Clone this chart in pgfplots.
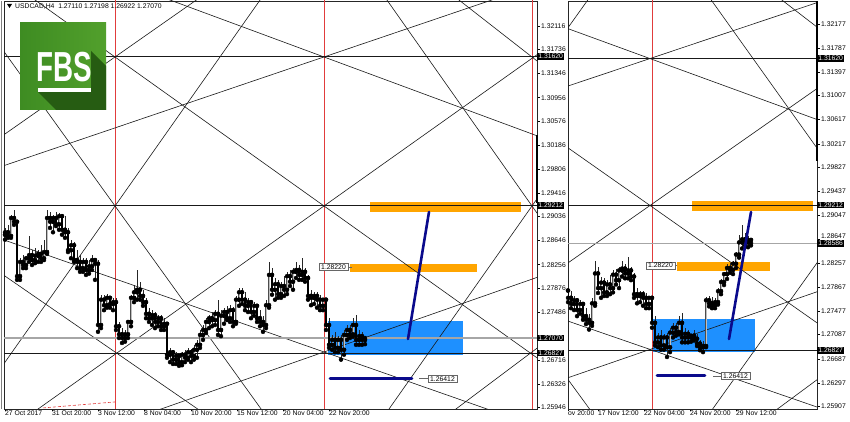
\documentclass[border=0pt]{standalone}
\usepackage{pgfplots}
\pgfplotsset{compat=1.18}
\usepackage{pgfplotstable}
\usepackage{fontspec}
\setmainfont{Liberation Sans}

\definecolor{zoneorange}{RGB}{255,165,0}
\definecolor{zoneblue}{RGB}{30,144,255}
\definecolor{arrownavy}{RGB}{10,10,140}
\definecolor{sepred}{RGB}{225,60,60}
\definecolor{fbsgreen}{RGB}{82,160,44}
\definecolor{fbsgreenL}{RGB}{62,140,34}
\definecolor{fbsdark}{RGB}{38,92,18}

% USDCAD H4 candles: x = bar position (left-panel pixel scale), open high low close
\pgfplotstableread{
x o h l c
5 1.2874 1.2885 1.2866 1.2878
8 1.2878 1.2890 1.2869 1.2872
11 1.2872 1.2906 1.2869 1.2901
14 1.2901 1.2914 1.2890 1.2895
17 1.2895 1.2898 1.2801 1.2807
20 1.2807 1.2836 1.2801 1.2830
23 1.2830 1.2841 1.2820 1.2825
26 1.2825 1.2840 1.2820 1.2836
29 1.2836 1.2872 1.2830 1.2841
32 1.2841 1.2849 1.2825 1.2833
35 1.2833 1.2853 1.2828 1.2840
38 1.2840 1.2849 1.2830 1.2843
41 1.2843 1.2857 1.2830 1.2836
44 1.2836 1.2866 1.2833 1.2846
47 1.2846 1.2914 1.2843 1.2901
50 1.2901 1.2911 1.2885 1.2895
53 1.2895 1.2906 1.2878 1.2901
56 1.2901 1.2911 1.2888 1.2891
59 1.2891 1.2909 1.2882 1.2904
62 1.2904 1.2908 1.2874 1.2882
65 1.2882 1.2904 1.2869 1.2878
68 1.2878 1.2885 1.2846 1.2849
71 1.2849 1.2866 1.2836 1.2857
74 1.2857 1.2862 1.2830 1.2833
77 1.2833 1.2849 1.2820 1.2830
80 1.2830 1.2841 1.2814 1.2820
83 1.2820 1.2836 1.2814 1.2830
86 1.2830 1.2836 1.2809 1.2817
89 1.2817 1.2833 1.2811 1.2823
92 1.2823 1.2841 1.2817 1.2833
95 1.2833 1.2836 1.2801 1.2827
98 1.2827 1.2833 1.2717 1.2728
101 1.2728 1.2777 1.2723 1.2769
104 1.2769 1.2777 1.2752 1.2760
107 1.2760 1.2778 1.2756 1.2772
110 1.2772 1.2775 1.2756 1.2762
113 1.2762 1.2772 1.2752 1.2765
116 1.2765 1.2772 1.2720 1.2726
119 1.2726 1.2733 1.2707 1.2713
122 1.2713 1.2723 1.2699 1.2707
125 1.2707 1.2720 1.2701 1.2713
128 1.2713 1.2736 1.2707 1.2733
131 1.2733 1.2777 1.2726 1.2772
134 1.2772 1.2793 1.2765 1.2781
137 1.2781 1.2817 1.2769 1.2785
140 1.2785 1.2798 1.2769 1.2775
143 1.2775 1.2785 1.2759 1.2765
146 1.2765 1.2772 1.2739 1.2746
149 1.2746 1.2756 1.2733 1.2739
152 1.2739 1.2752 1.2728 1.2744
155 1.2744 1.2749 1.2723 1.2733
158 1.2733 1.2744 1.2726 1.2739
161 1.2739 1.2744 1.2720 1.2726
164 1.2726 1.2739 1.2720 1.2730
167 1.2730 1.2733 1.2675 1.2680
170 1.2680 1.2691 1.2668 1.2684
173 1.2684 1.2688 1.2665 1.2672
176 1.2672 1.2684 1.2665 1.2678
179 1.2678 1.2683 1.2662 1.2668
182 1.2668 1.2684 1.2663 1.2680
185 1.2680 1.2688 1.2668 1.2675
188 1.2675 1.2691 1.2672 1.2684
191 1.2684 1.2689 1.2668 1.2678
194 1.2678 1.2696 1.2672 1.2688
197 1.2688 1.2704 1.2675 1.2696
200 1.2696 1.2720 1.2691 1.2712
203 1.2712 1.2728 1.2704 1.2720
206 1.2720 1.2739 1.2715 1.2733
209 1.2733 1.2744 1.2723 1.2739
212 1.2739 1.2749 1.2726 1.2736
215 1.2736 1.2752 1.2728 1.2746
218 1.2746 1.2769 1.2712 1.2720
221 1.2720 1.2752 1.2710 1.2743
224 1.2743 1.2756 1.2730 1.2749
227 1.2749 1.2759 1.2736 1.2739
230 1.2739 1.2760 1.2733 1.2752
233 1.2752 1.2757 1.2726 1.2733
236 1.2733 1.2775 1.2730 1.2769
239 1.2769 1.2788 1.2759 1.2781
242 1.2781 1.2788 1.2762 1.2769
245 1.2769 1.2781 1.2752 1.2759
248 1.2759 1.2772 1.2749 1.2765
251 1.2765 1.2769 1.2739 1.2749
254 1.2749 1.2765 1.2743 1.2759
257 1.2759 1.2762 1.2733 1.2739
260 1.2739 1.2752 1.2726 1.2733
263 1.2733 1.2743 1.2717 1.2728
266 1.2728 1.2769 1.2723 1.2760
269 1.2760 1.2830 1.2756 1.2809
272 1.2809 1.2820 1.2777 1.2785
275 1.2785 1.2804 1.2769 1.2794
278 1.2794 1.2801 1.2772 1.2778
281 1.2778 1.2798 1.2772 1.2791
284 1.2791 1.2807 1.2775 1.2785
287 1.2785 1.2814 1.2778 1.2807
290 1.2807 1.2817 1.2791 1.2798
293 1.2798 1.2820 1.2785 1.2814
296 1.2814 1.2830 1.2804 1.2817
299 1.2817 1.2825 1.2801 1.2809
302 1.2809 1.2836 1.2801 1.2814
305 1.2814 1.2820 1.2798 1.2804
308 1.2804 1.2809 1.2769 1.2775
311 1.2775 1.2785 1.2760 1.2772
314 1.2772 1.2781 1.2762 1.2775
317 1.2775 1.2781 1.2756 1.2769
320 1.2769 1.2777 1.2752 1.2759
323 1.2759 1.2772 1.2752 1.2769
326 1.2769 1.2772 1.2720 1.2728
329 1.2728 1.2739 1.2691 1.2696
332 1.2696 1.2712 1.2688 1.2704
335 1.2704 1.2717 1.2684 1.2691
338 1.2691 1.2710 1.2684 1.2704
341 1.2704 1.2712 1.2672 1.2688
344 1.2688 1.2720 1.2680 1.2712
347 1.2712 1.2728 1.2704 1.2720
350 1.2720 1.2728 1.2707 1.2713
353 1.2713 1.2739 1.2709 1.2728
356 1.2728 1.2744 1.2696 1.2704
359 1.2704 1.2720 1.2696 1.2710
362 1.2710 1.2717 1.2696 1.2704
365 1.2704 1.2710 1.2697 1.2707
368 1.2707 1.2717 1.2699 1.2702
371 1.2702 1.2710 1.2690 1.2694
374 1.2694 1.2700 1.2683 1.2688
377 1.2688 1.2698 1.2680 1.2690
380 1.2690 1.2770 1.2688 1.2765
383 1.2765 1.2772 1.2755 1.2760
386 1.2760 1.2770 1.2752 1.2757
389 1.2757 1.2768 1.2752 1.2762
392 1.2762 1.2785 1.2758 1.2780
395 1.2780 1.2800 1.2775 1.2795
398 1.2795 1.2812 1.2790 1.2808
401 1.2808 1.2825 1.2800 1.2818
404 1.2818 1.2826 1.2810 1.2815
407 1.2815 1.2830 1.2808 1.2825
410 1.2825 1.2845 1.2818 1.2840
413 1.2840 1.2872 1.2835 1.2860
416 1.2860 1.2888 1.2850 1.2865
419 1.2865 1.2875 1.2855 1.2860
422 1.2860 1.2870 1.2852 1.2864
425 1.2864 1.2867 1.2855 1.2859
}\candles

\newcommand{\tickfont}{\fontsize{6.8}{8}\selectfont}

\pgfplotsset{
  mtpanel/.style={
    scale only axis, height=408pt, clip mode=individual,
    axis line style={black!85, line width=0.6pt},
    tick align=outside, major tick length=2.5pt,
    xtick pos=left, ytick pos=right, yticklabel pos=right,
    tick style={black, line width=0.5pt},
    ticklabel style={font=\tickfont, inner sep=1pt},
    yticklabel style={anchor=west, xshift=0.5pt},
    xticklabel style={anchor=north west, xshift=-1pt, yshift=1.5pt},
    scaled y ticks=false,
  },
  gann/.style={black!90, line width=0.6pt},
  level/.style={black!90, line width=0.65pt},
  sep/.style={sepred, line width=0.6pt},
}
\tikzset{
  tag/.style={fill=black, text=white, anchor=west, inner xsep=1.2pt, inner ysep=1pt, font=\tickfont},
  boxlab/.style={draw=black!60, fill=white, text=black, inner xsep=2pt, inner ysep=1pt, font=\tickfont},
}

% candles up to a given bar position
\newcommand{\drawcandles}[1]{%
  \addplot[only marks, mark=none, restrict x to domain=0:#1,
    error bars/.cd, y dir=plus, y explicit, error mark=none,
    error bar style={black!85, line width=0.45pt}]
    table[x=x, y=l, y error plus expr=\thisrow{h}-\thisrow{l}] {\candles};
  \addplot[only marks, mark=none, restrict x to domain=0:#1,
    error bars/.cd, y dir=plus, y explicit, error mark=none,
    error bar style={black!70, line width=1.4pt}]
    table[x=x, y=o, y error plus expr={max(\thisrow{c}-\thisrow{o},0)}] {\candles};
  \addplot[only marks, mark=none, restrict x to domain=0:#1,
    error bars/.cd, y dir=plus, y explicit, error mark=none,
    error bar style={black!25, line width=0.6pt}]
    table[x=x, y=o, y error plus expr={max(\thisrow{c}-\thisrow{o},0)}] {\candles};
  \addplot[only marks, mark=none, restrict x to domain=0:#1,
    error bars/.cd, y dir=plus, y explicit, error mark=none,
    error bar style={black, line width=1.3pt}]
    table[x=x, y=c, y error plus expr={max(\thisrow{o}-\thisrow{c},0)}] {\candles};
}

% angle lines shared by both panels
\newcommand{\drawgann}{%
  \addplot[gann] coordinates {(0,1.31791) (540,1.19652)};
  \addplot[gann] coordinates {(0,1.33553) (540,1.30322)};
  \addplot[gann] coordinates {(0,1.30313) (540,1.36425)};
  \addplot[gann] coordinates {(0,1.32940) (540,1.26715)};
  \addplot[gann] coordinates {(0,1.29836) (540,1.32801)};
  \addplot[gann] coordinates {(0,1.26564) (300,1.33453)};
  \addplot[gann] coordinates {(380,1.32695) (540,1.29021)};
  \addplot[gann] coordinates {(0,1.25485) (540,1.31685)};
  \addplot[gann] coordinates {(450,1.32649) (540,1.31513)};
  \addplot[gann] coordinates {(0,1.28678) (540,1.25622)};
  \addplot[gann] coordinates {(0,1.28127) (300,1.24780)};
  \addplot[gann] coordinates {(100,1.25576) (540,1.28067)};
  \addplot[gann] coordinates {(380,1.25715) (540,1.29389)};
  \addplot[gann] coordinates {(440,1.25728) (540,1.26941)};
  \addplot[level] coordinates {(0,1.31620) (600,1.31620)};
  \addplot[level] coordinates {(0,1.29212) (600,1.29212)};
  \addplot[level] coordinates {(0,1.26827) (600,1.26827)};
}

\begin{document}
\begin{tikzpicture}[x=1pt, y=1pt]
\useasboundingbox (0,0) rectangle (850,422);

% ---------------- left panel ----------------
\begin{axis}[mtpanel, at={(4pt,13pt)}, anchor=south west, width=533pt,
  xmin=4, xmax=537, ymin=1.25922, ymax=1.32520,
  xtick={5,52,98,144,191,237,283,329},
  xticklabels={27 Oct 2017, 31 Oct 20:00, 3 Nov 12:00, 8 Nov 04:00, 10 Nov 20:00, 15 Nov 12:00, 20 Nov 04:00, 22 Nov 20:00},
  ytick={1.25946,1.26326,1.26716,1.27096,1.27486,1.27876,1.28256,1.28646,1.29036,1.29416,1.29806,1.30186,1.30576,1.30956,1.31346,1.31736,1.32116},
  yticklabels={1.25946,1.26326,1.26716,,1.27486,1.27876,1.28256,1.28646,1.29036,1.29416,1.29806,1.30186,1.30576,1.30956,1.31346,1.31736,1.32116},
]
\addplot[fill=zoneblue, draw=none] coordinates {(328,1.26796) (463,1.26796) (463,1.27345) (328,1.27345)};
\addplot[fill=zoneorange, draw=none] coordinates {(370,1.29108) (521,1.29108) (521,1.29270) (370,1.29270)};
\addplot[fill=zoneorange, draw=none] coordinates {(350,1.28138) (477,1.28138) (477,1.28267) (350,1.28267)};
\addplot[sep] coordinates {(115,1.2) (115,1.4)};
\addplot[sep] coordinates {(324,1.2) (324,1.4)};
\addplot[sep] coordinates {(532,1.2) (532,1.4)};
\addplot[sep, densely dashed] coordinates {(43,1.25939) (115,1.26036)};
\drawgann
\addplot[black!35, line width=1.2pt] coordinates {(0,1.27070) (600,1.27070)};
\drawcandles{366}
\addplot[arrownavy, line width=2.6pt, line cap=round] coordinates {(408,1.27054) (429,1.29108)};
\addplot[arrownavy, line width=2.6pt, line cap=round] coordinates {(330,1.26412) (412,1.26412)};
\addplot[black!60, line width=0.5pt] coordinates {(348,1.28220) (352,1.28220)};
\addplot[black!60, line width=0.5pt] coordinates {(419,1.26412) (428,1.26412)};
\node[boxlab, anchor=east] at (axis cs:348,1.28220) {1.28220};
\node[boxlab, anchor=west] at (axis cs:428,1.26412) {1.26412};
\draw[black, line width=1.6pt] (axis cs:537,1.30353) -- (axis cs:537,1.29253);
\node[tag] at (axis cs:537,1.31620) {1.31620};
\node[tag] at (axis cs:537,1.29212) {1.29212};
\node[tag] at (axis cs:537,1.27070) {1.27070};
\node[tag] at (axis cs:537,1.26827) {1.26827};
\end{axis}

% ---------------- right panel ----------------
\begin{axis}[mtpanel, at={(568pt,13pt)}, anchor=south west, width=249pt,
  xmin=242, xmax=491, ymin=1.25867, ymax=1.32559,
  xtick={242,272,318,364,410},
  xticklabels={ov 20:00, 17 Nov 12:00, 22 Nov 04:00, 24 Nov 20:00, 29 Nov 12:00},
  ytick={1.25907,1.26297,1.26687,1.27087,1.27477,1.27867,1.28257,1.28647,1.29047,1.29437,1.29827,1.30217,1.30617,1.31007,1.31397,1.31787,1.32177},
  yticklabels={1.25907,1.26297,1.26687,1.27087,1.27477,1.27867,1.28257,,1.29047,1.29437,1.29827,1.30217,1.30617,1.31007,1.31397,1.31787,1.32177},
]
\addplot[fill=zoneblue, draw=none] coordinates {(327,1.26802) (429,1.26802) (429,1.27343) (327,1.27343)};
\addplot[fill=zoneorange, draw=none] coordinates {(366,1.29115) (487,1.29115) (487,1.29279) (366,1.29279)};
\addplot[fill=zoneorange, draw=none] coordinates {(351,1.28131) (444,1.28131) (444,1.28278) (351,1.28278)};
\addplot[sep] coordinates {(326,1.2) (326,1.4)};
\drawgann
\addplot[black!35, line width=1.2pt] coordinates {(0,1.28586) (600,1.28586)};
\drawcandles{430}
\addplot[arrownavy, line width=2.6pt, line cap=round] coordinates {(403,1.27015) (425,1.29098)};
\addplot[arrownavy, line width=2.6pt, line cap=round] coordinates {(331,1.26412) (379,1.26412)};
\addplot[black!60, line width=0.5pt] coordinates {(349,1.28220) (351,1.28220)};
\addplot[black!60, line width=0.5pt] coordinates {(387,1.26412) (395,1.26412)};
\node[boxlab, anchor=east] at (axis cs:349,1.28220) {1.28220};
\node[boxlab, anchor=west] at (axis cs:395,1.26412) {1.26412};
\draw[black, line width=1.8pt] (axis cs:491,1.32559) -- (axis cs:491,1.29935);
\node[tag] at (axis cs:491,1.31620) {1.31620};
\node[tag] at (axis cs:491,1.29212) {1.29212};
\node[tag] at (axis cs:491,1.26827) {1.26827};
\node[tag, anchor=south west, yshift=3.2pt, fill=none, text=black, inner xsep=1pt, xshift=3pt] at (axis cs:491,1.28586) {1.28647};
\node[tag] at (axis cs:491,1.28586) {1.28586};
\end{axis}

% outer frame line of the left window
\draw[black!50, line width=0.5pt] (1.5,13) -- (1.5,421);

% chart caption
\fill[black] (7,418) -- (12,418) -- (9.5,414) -- cycle;
\node[anchor=base west, inner sep=0pt, font=\tickfont] at (15,413) {USDCAD,H4\ \ 1.27110 1.27198 1.26922 1.27070};

% FBS logo
\shade[left color=fbsgreenL, right color=fbsgreen] (20,312) rectangle (106,399);
\fill[fbsdark] (91,371) -- (106,356) -- (106,312) -- (56,312) -- (38,330) -- (91,330) -- cycle;
\node[text=white, inner sep=0pt] at (64.5,355) {\scalebox{0.66}[1]{\fontsize{42}{42}\selectfont\bfseries FBS}};
\fill[white] (38,330) rectangle (91,334);
\end{tikzpicture}
\end{document}
